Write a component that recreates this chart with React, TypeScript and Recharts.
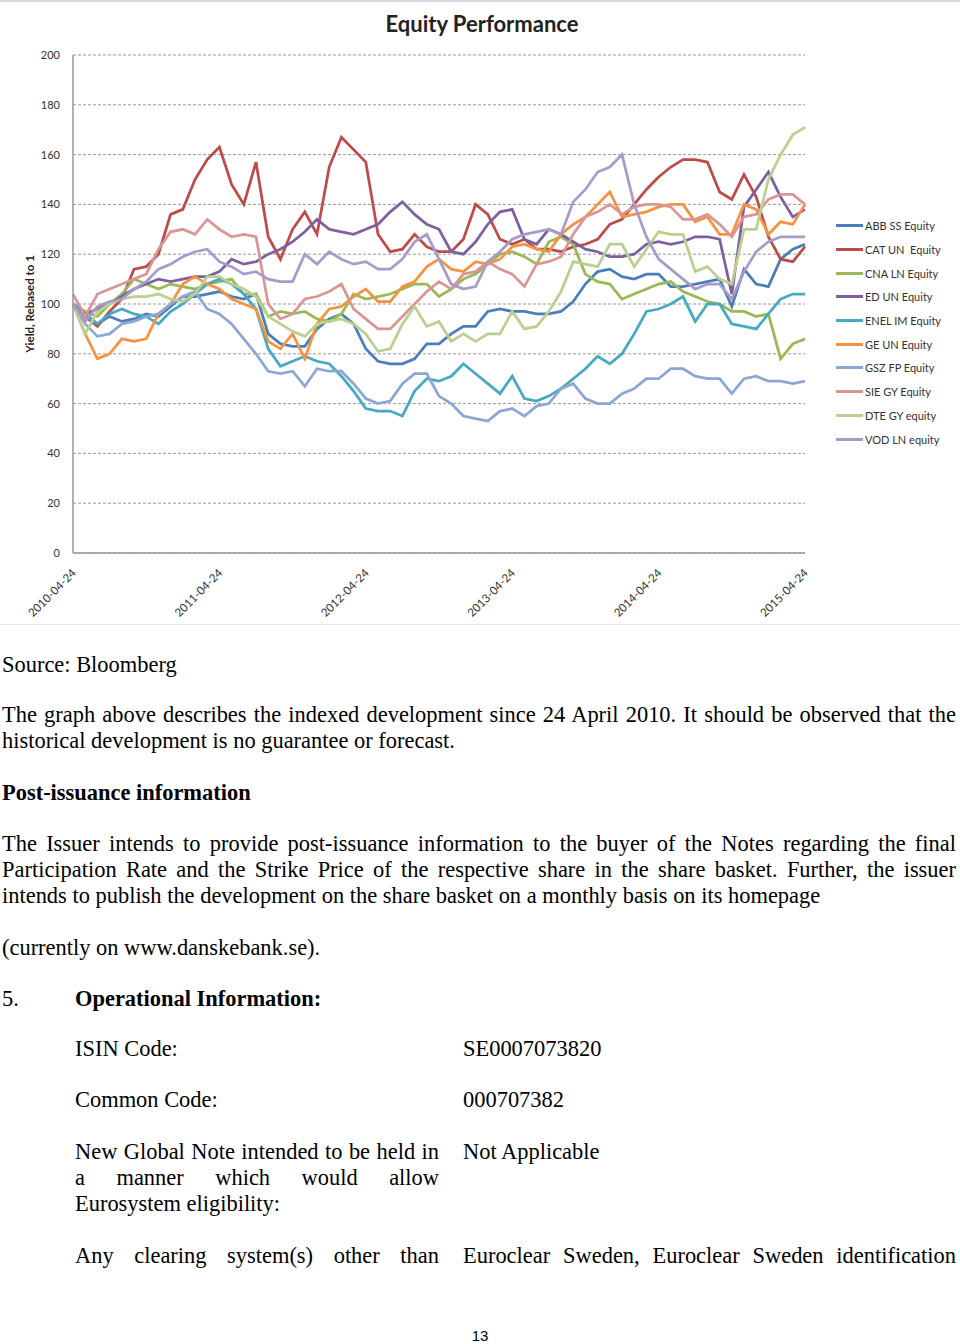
import React from "react";
import { LineChart, Line, XAxis, YAxis, CartesianGrid } from "recharts";

const dates = [
  "2010-04-24","2010-05-24","2010-06-24","2010-07-24","2010-08-24","2010-09-24","2010-10-24","2010-11-24","2010-12-24","2011-01-24","2011-02-24","2011-03-24",
  "2011-04-24","2011-05-24","2011-06-24","2011-07-24","2011-08-24","2011-09-24","2011-10-24","2011-11-24","2011-12-24","2012-01-24","2012-02-24","2012-03-24",
  "2012-04-24","2012-05-24","2012-06-24","2012-07-24","2012-08-24","2012-09-24","2012-10-24","2012-11-24","2012-12-24","2013-01-24","2013-02-24","2013-03-24",
  "2013-04-24","2013-05-24","2013-06-24","2013-07-24","2013-08-24","2013-09-24","2013-10-24","2013-11-24","2013-12-24","2014-01-24","2014-02-24","2014-03-24",
  "2014-04-24","2014-05-24","2014-06-24","2014-07-24","2014-08-24","2014-09-24","2014-10-24","2014-11-24","2014-12-24","2015-01-24","2015-02-24","2015-03-24",
  "2015-04-24",
];

const yTicks = [0, 20, 40, 60, 80, 100, 120, 140, 160, 180, 200];

const abb = [100,96,92,95,93,94,96,95,99,103,103,104,105,103,102,104,88,84,83,83,90,94,96,92,82,77,76,76,78,84,84,88,91,91,97,98,97,97,96,96,97,101,108,113,114,111,110,112,112,107,107,108,109,110,99,114,108,107,118,122,124];
const cat = [100,95,91,97,102,114,115,120,136,138,150,158,163,148,140,157,127,118,130,137,128,155,167,162,157,128,121,122,128,123,121,121,126,140,136,126,124,126,122,122,121,123,124,126,132,134,140,146,151,155,158,158,157,145,142,152,143,127,118,117,123];
const cna = [100,97,95,100,104,110,108,106,108,107,106,108,109,110,104,104,95,97,96,97,94,93,96,104,102,103,104,106,108,108,103,106,110,112,116,120,121,119,116,125,127,124,112,109,108,102,104,106,108,109,105,103,101,100,97,97,95,96,78,84,86];
const ed = [100,96,98,100,103,106,108,110,109,110,111,111,113,118,116,117,120,122,125,129,134,130,129,128,130,132,137,141,136,132,130,121,120,125,132,137,138,126,124,130,128,125,122,121,119,119,120,124,125,124,125,127,127,126,104,139,146,153,143,135,138];
const enel = [100,95,92,96,98,96,95,92,97,100,104,108,110,108,104,98,82,75,77,79,77,76,71,65,58,57,57,55,65,70,69,71,76,72,68,64,71,62,61,63,66,70,74,79,76,80,88,97,98,100,103,93,100,100,92,91,90,96,102,104,104];
const ge = [100,88,78,80,86,85,86,96,100,108,111,108,106,102,100,98,85,82,88,78,92,98,99,103,106,101,101,107,109,115,118,114,113,117,116,118,123,124,122,121,128,132,135,140,145,135,136,137,139,140,140,133,135,128,128,140,138,128,133,132,140];
const gsz = [100,92,87,88,92,93,95,96,100,103,105,98,96,92,86,80,73,72,73,67,74,73,73,68,62,60,61,68,72,72,63,60,55,54,53,57,58,55,59,60,66,68,62,60,60,64,66,70,70,74,74,71,70,70,64,70,71,69,69,68,69];
const sie = [104,95,104,106,108,110,112,122,129,130,128,134,130,127,128,127,100,94,96,102,103,105,108,98,94,90,90,95,100,105,109,106,112,113,117,114,112,107,116,117,119,128,135,137,140,136,139,140,140,139,134,134,136,132,127,135,136,142,144,144,140];
const dte = [100,88,97,100,102,103,103,104,102,101,104,111,111,108,106,103,95,92,89,87,92,93,94,92,88,81,82,92,99,91,93,85,88,85,88,88,97,90,91,97,105,117,116,115,124,124,115,122,129,128,128,113,115,110,108,130,130,150,160,168,171];
const vod = [100,93,99,101,102,106,109,114,116,119,121,122,117,115,112,113,110,109,109,120,116,121,118,116,117,114,114,118,125,128,118,108,106,107,117,121,126,128,129,130,128,141,146,153,155,160,140,127,118,114,110,106,108,108,102,113,121,125,127,127,127];

const seriesNames = ["ABB SS Equity","CAT UN  Equity","CNA LN Equity","ED UN Equity","ENEL IM Equity","GE UN Equity","GSZ FP Equity","SIE GY Equity","DTE GY equity","VOD LN equity"];
const seriesKeys = ["abb","cat","cna","ed","enel","ge","gsz","sie","dte","vod"];
const seriesValues = [abb, cat, cna, ed, enel, ge, gsz, sie, dte, vod];
const seriesColors = ["#4A7EBB","#BE4B48","#98B954","#7D60A0","#46AAC5","#F69240","#8DA7D4","#D99694","#B9D08F","#A99BC9"];

const data = dates.map((d, i) => {
  const row: any = { date: d };
  seriesKeys.forEach((k, j) => { row[k] = seriesValues[j][i]; });
  return row;
});

const chartFont = "Lato, 'Open Sans', sans-serif";

const XTick = (props: any) => {
  const { x, y, payload } = props;
  return (
    <g transform={`translate(${x + 1},${y + 10})`}>
      <text textAnchor="end" transform="rotate(-45)" fontSize={11.5} fill="#333" fontFamily={chartFont} dy={4}>
        {payload.value}
      </text>
    </g>
  );
};

const LegendBox = () => (
  <div style={{ position: "absolute", left: 836, top: 214, fontFamily: chartFont, fontSize: 11, color: "#333" }}>
    {seriesNames.map((n, i) => (
      <div key={n} style={{ display: "flex", alignItems: "center", height: 23.7 }}>
        <div style={{ width: 27, height: 3, background: seriesColors[i], marginRight: 2 }} />
        <span style={{ whiteSpace: "pre" }}>{n}</span>
      </div>
    ))}
  </div>
);

const serif = "'Liberation Serif', 'Times New Roman', serif";

const TextLine = ({ x, base, w, children, bold, justify }: any) => (
  <div
    style={{
      position: "absolute",
      left: x,
      top: base - 20.7,
      width: w,
      fontFamily: serif,
      fontSize: 22.45,
      lineHeight: "26px",
      fontWeight: bold ? "bold" : "normal",
      textAlign: justify ? "justify" : "left",
      textAlignLast: justify ? "justify" : "left",
      whiteSpace: "nowrap",
      color: "#000",
    } as any}
  >
    {children}
  </div>
);

export default function App() {
  return (
    <div style={{ position: "absolute", left: 0, top: 0, width: 960, height: 1344, background: "#fff", overflow: "hidden" }}>
      <div style={{ position: "absolute", left: 0, top: 0, width: 960, height: 2, background: "#d3dbe6" }} />
      <div style={{ position: "absolute", left: 0, top: 624, width: 960, height: 1, background: "#e6e6e6" }} />
      <div style={{ position: "absolute", left: 0, top: 10, width: 964, textAlign: "center", fontFamily: chartFont, fontWeight: "bold", fontSize: 22, color: "#222" }}>
        Equity Performance
      </div>
      <div style={{ position: "absolute", left: 0, top: 0 }}>
        <LineChart width={960} height={625} data={data} margin={{ top: 55, right: 155, bottom: 12, left: 13 }}>
          <CartesianGrid vertical={false} stroke="#999" strokeDasharray="3 2" />
          <XAxis
            dataKey="date"
            interval={11}
            tick={<XTick />}
            tickLine={false}
            axisLine={{ stroke: "#999", strokeWidth: 1.5 }}
            height={60}
          />
          <YAxis
            domain={[0, 200]}
            ticks={yTicks}
            tickLine={false}
            tickSize={0}
            tickMargin={13}
            width={60}
            axisLine={{ stroke: "#999", strokeWidth: 1.5 }}
            tick={{ fontSize: 11, fill: "#333", fontFamily: chartFont }}
            label={{ value: "Yield, Rebased to 1", angle: -90, position: "insideLeft", offset: 17, style: { fontSize: 11.5, fontWeight: "bold", fill: "#222", fontFamily: chartFont, textAnchor: "middle" } }}
          />
          {seriesKeys.map((k, j) => (
            <Line key={k} type="linear" dataKey={k} name={seriesNames[j]} stroke={seriesColors[j]} strokeWidth={2.75} dot={false} isAnimationActive={false} />
          ))}
        </LineChart>
      </div>
      <LegendBox />

      <TextLine x={2} base={672.5}>Source: Bloomberg</TextLine>
      <TextLine x={2} base={722.7} w={954} justify>The graph above describes the indexed development since 24 April 2010. It should be observed that the</TextLine>
      <TextLine x={2} base={748.7}>historical development is no guarantee or forecast.</TextLine>
      <TextLine x={2} base={800.5} bold>Post-issuance information</TextLine>
      <TextLine x={2} base={851.5} w={954} justify>The Issuer intends to provide post-issuance information to the buyer of the Notes regarding the final</TextLine>
      <TextLine x={2} base={877.5} w={954} justify>Participation Rate and the Strike Price of the respective share in the share basket. Further, the issuer</TextLine>
      <TextLine x={2} base={903.5}>intends to publish the development on the share basket on a monthly basis on its homepage</TextLine>
      <TextLine x={2} base={955.5}>(currently on www.danskebank.se).</TextLine>
      <TextLine x={2} base={1006.5}>5.</TextLine>
      <TextLine x={75} base={1006.5} bold>Operational Information:</TextLine>
      <TextLine x={75} base={1056.5}>ISIN Code:</TextLine>
      <TextLine x={463} base={1056.5}>SE0007073820</TextLine>
      <TextLine x={75} base={1107.5}>Common Code:</TextLine>
      <TextLine x={463} base={1107.5}>000707382</TextLine>
      <TextLine x={75} base={1159.5} w={364} justify>New Global Note intended to be held in</TextLine>
      <TextLine x={463} base={1159.5}>Not Applicable</TextLine>
      <TextLine x={75} base={1185.5} w={364} justify>a manner which would allow</TextLine>
      <TextLine x={75} base={1212}>Eurosystem eligibility:</TextLine>
      <TextLine x={75} base={1263.5} w={364} justify>Any clearing system(s) other than</TextLine>
      <TextLine x={463} base={1263.5} w={493} justify>Euroclear Sweden, Euroclear Sweden identification</TextLine>
      <div style={{ position: "absolute", left: 430, top: 1327, width: 100, textAlign: "center", fontFamily: "'Liberation Sans', Arial, sans-serif", fontSize: 15, color: "#000" }}>13</div>
    </div>
  );
}
